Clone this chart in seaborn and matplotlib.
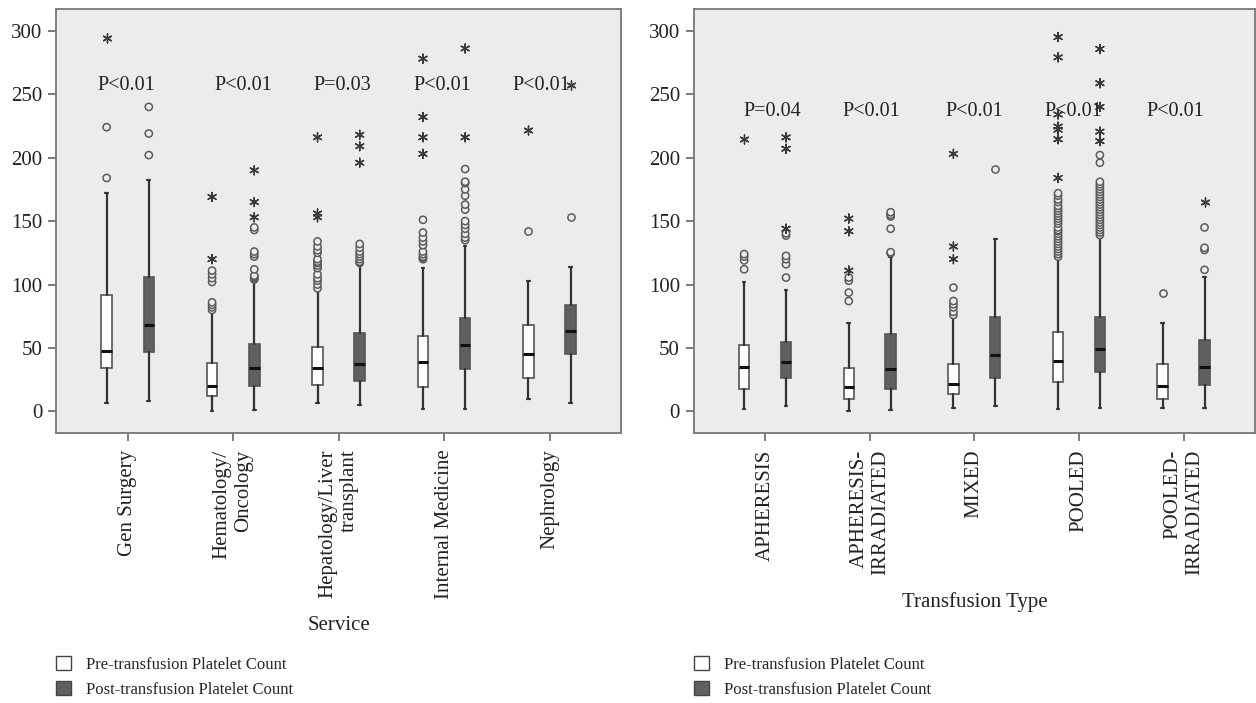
import pandas as pd
import seaborn as sns
import matplotlib.pyplot as plt
from matplotlib.patches import Patch

# ---- Service panel
services = ["Gen Surgery", "Hematology/\nOncology", "Hepatology/Liver\ntransplant",
            "Internal Medicine", "Nephrology"]
svc_pre_lo = [7, 0, 7, 2, 10]
svc_pre_q1 = [34, 12, 21, 19, 26]
svc_pre_med = [48, 20, 34, 39, 45]
svc_pre_q3 = [92, 38.5, 51, 59.5, 68]
svc_pre_hi = [172, 78, 96, 113, 103]
svc_post_lo = [8, 1, 5, 2, 7]
svc_post_q1 = [46.5, 20, 24, 33.5, 45.5]
svc_post_med = [68, 34, 37.5, 52.5, 63.5]
svc_post_q3 = [106, 53, 61.5, 74, 83.5]
svc_post_hi = [182, 103, 117, 130, 114]
svc_pre_circles = [[184, 224], [80, 82, 84, 86, 102, 105, 108, 111],
                   [97, 100, 103, 105, 108, 113, 115, 117, 118, 120, 125, 127, 130, 134],
                   [120, 121, 122, 124, 126, 131, 134, 137, 141, 151], [142.5]]
svc_pre_stars = [[294], [120, 169], [153, 156, 216], [203, 216, 232, 278], [222]]
svc_post_circles = [[202, 219, 240], [104, 105, 106, 107, 112, 122, 124, 126, 143, 145],
                    [117, 118, 120, 122, 124, 126, 129, 132],
                    [135, 137, 140, 144, 147, 150, 159, 163, 170, 175, 180, 181, 191], [153]]
svc_post_stars = [[], [153, 165, 190], [196, 209, 218], [216, 286], [257]]
svc_pvals = ["P<0.01", "P<0.01", "P=0.03", "P<0.01", "P<0.01"]
svc_pval_dx = [-0.01, 0.1, 0.03, -0.02, -0.08]
svc_pval_y = 257

# ---- Transfusion type panel
types = ["APHERESIS", "APHERESIS-\nIRRADIATED", "MIXED", "POOLED", "POOLED-\nIRRADIATED"]
typ_pre_lo = [2, 0, 2.5, 2, 2.5]
typ_pre_q1 = [18, 9.7, 13.7, 23, 9.7]
typ_pre_med = [35, 19, 22, 40, 19.7]
typ_pre_q3 = [52, 34, 37.6, 62.8, 37.6]
typ_pre_hi = [102, 70, 79, 120.7, 70]
typ_post_lo = [4, 1, 4.5, 2.5, 2.5]
typ_post_q1 = [26.3, 18, 26.3, 31, 21]
typ_post_med = [39, 33.6, 44.4, 49.4, 35.2]
typ_post_q3 = [55, 61, 74.6, 74.6, 56.5]
typ_post_hi = [96, 122, 135.7, 137.8, 105.8]
typ_pre_circles = [[112, 119, 122, 124], [87, 93.7, 103, 105.5],
                   [76, 78.5, 82, 84.5, 87, 97.6],
                   [122, 124, 126, 128, 130, 132, 134, 136, 138, 140, 142, 143, 145, 148,
                    150, 152, 154, 156, 158, 160, 162, 165, 167, 170, 172],
                   [93.7]]
typ_pre_stars = [[215], [111, 142, 152], [120, 130, 203],
                 [184, 214.5, 222, 224.5, 234, 279, 295], []]
typ_post_circles = [[105.5, 116, 120, 122.6, 138.6, 140.4],
                    [124.7, 125.5, 144, 153.6, 155, 157], [191],
                    [139, 141, 143, 145, 147, 149, 151, 153, 155, 157, 159, 161, 163, 165,
                     167, 169, 171, 173, 175, 177, 179, 181, 196, 202],
                    [111.6, 127.3, 129, 145]]
typ_post_stars = [[144, 207, 216], [], [], [213, 220.5, 240, 258.6, 285.6], [165]]
typ_pvals = ["P=0.04", "P<0.01", "P<0.01", "P<0.01", "P<0.01"]
typ_pval_dx = [0.07, 0.02, 0.0, -0.05, -0.08]
typ_pval_y = 236

groups = ["Pre-transfusion Platelet Count", "Post-transfusion Platelet Count"]

sns.set_theme(style="ticks")
plt.rcParams["font.family"] = ["Liberation Serif", "DejaVu Serif"]

BG = "#ececec"
PRE_FACE, POST_FACE = "#ffffff", "#606060"
FS = 15


def outlier_frame(cats, pre, post):
    rows = []
    for c, vals in zip(cats, pre):
        rows += [(c, groups[0], v) for v in vals]
    for c, vals in zip(cats, post):
        rows += [(c, groups[1], v) for v in vals]
    return pd.DataFrame(rows, columns=["cat", "group", "value"])


def draw_panel(ax, cats, pre, post, circles, stars, pvals, pval_dx, pval_y, xlabel):
    ax.set_facecolor(BG)
    # outliers (open circles) and extremes (asterisks) dodged like the boxes
    circ = outlier_frame(cats, *circles)
    sns.stripplot(data=circ, x="cat", y="value", hue="group", hue_order=groups,
                  order=cats, dodge=True, jitter=False, ax=ax, legend=False,
                  palette=[BG, BG], edgecolor="#5a5a5a", linewidth=1.1, size=5.2,
                  zorder=3)
    star = outlier_frame(cats, *stars)
    sns.stripplot(data=star, x="cat", y="value", hue="group", hue_order=groups,
                  order=cats, dodge=True, jitter=False, ax=ax, legend=False,
                  palette=["#3a3a3a", "#3a3a3a"], marker=(6, 2, 0), linewidth=1.0,
                  size=6.5, zorder=3)

    for k, (lo, q1, med, q3, hi) in enumerate([pre, post]):
        stats = [dict(whislo=a, q1=b, med=c, q3=d, whishi=e, fliers=[])
                 for a, b, c, d, e in zip(lo, q1, med, q3, hi)]
        pos = [i + (-0.2 if k == 0 else 0.2) for i in range(len(cats))]
        ax.bxp(stats, positions=pos, widths=0.1, patch_artist=True,
               manage_ticks=False, capwidths=0.025,
               boxprops=dict(facecolor=PRE_FACE if k == 0 else POST_FACE,
                             edgecolor="#555555", linewidth=1.2),
               medianprops=dict(color="#111111", linewidth=2.2),
               whiskerprops=dict(color="#333333", linewidth=1.6),
               capprops=dict(color="#333333", linewidth=1.6),
               zorder=2)

    for i, (p, dx) in enumerate(zip(pvals, pval_dx)):
        ax.text(i + dx, pval_y, p, ha="center", va="center", fontsize=14.5,
                color="#222222")

    ax.set_xlim(-0.68, 4.68)
    ax.set_ylim(-17, 317)
    ax.set_yticks([0, 50, 100, 150, 200, 250, 300])
    ax.set_xticks(range(len(cats)))
    ax.set_xticklabels(cats, rotation=90, ha="center", va="top", multialignment="right",
                       fontsize=FS)
    ax.tick_params(axis="y", labelsize=FS, length=6, width=1.2, color="#666666",
                   pad=4, labelcolor="#222222")
    ax.tick_params(axis="x", length=6, width=1.2, color="#666666", pad=6,
                   labelcolor="#222222")
    ax.set_xlabel(xlabel, fontsize=FS, color="#222222", labelpad=12)
    ax.set_ylabel("")
    for s in ax.spines.values():
        s.set_visible(True)
        s.set_color("#777777")
        s.set_linewidth(1.3)

    handles = [Patch(facecolor=PRE_FACE, edgecolor="#444444", linewidth=1),
               Patch(facecolor=POST_FACE, edgecolor="#444444", linewidth=1)]
    ax.legend(handles, groups, loc="upper left", bbox_to_anchor=(-0.012, -0.51),
              frameon=False, fontsize=12, handlelength=0.9, handleheight=0.9,
              handletextpad=0.9, labelspacing=0.5, borderaxespad=0)


fig = plt.figure(figsize=(12.56, 7.03), dpi=100)
ax1 = fig.add_axes([0.0446, 0.384, 0.45, 0.603])
ax2 = fig.add_axes([0.5525, 0.384, 0.4465, 0.603])

draw_panel(ax1, services,
           (svc_pre_lo, svc_pre_q1, svc_pre_med, svc_pre_q3, svc_pre_hi),
           (svc_post_lo, svc_post_q1, svc_post_med, svc_post_q3, svc_post_hi),
           (svc_pre_circles, svc_post_circles), (svc_pre_stars, svc_post_stars),
           svc_pvals, svc_pval_dx, svc_pval_y, "Service")
draw_panel(ax2, types,
           (typ_pre_lo, typ_pre_q1, typ_pre_med, typ_pre_q3, typ_pre_hi),
           (typ_post_lo, typ_post_q1, typ_post_med, typ_post_q3, typ_post_hi),
           (typ_pre_circles, typ_post_circles), (typ_pre_stars, typ_post_stars),
           typ_pvals, typ_pval_dx, typ_pval_y, "Transfusion Type")

fig.savefig("out.png", dpi=100, facecolor="white")
